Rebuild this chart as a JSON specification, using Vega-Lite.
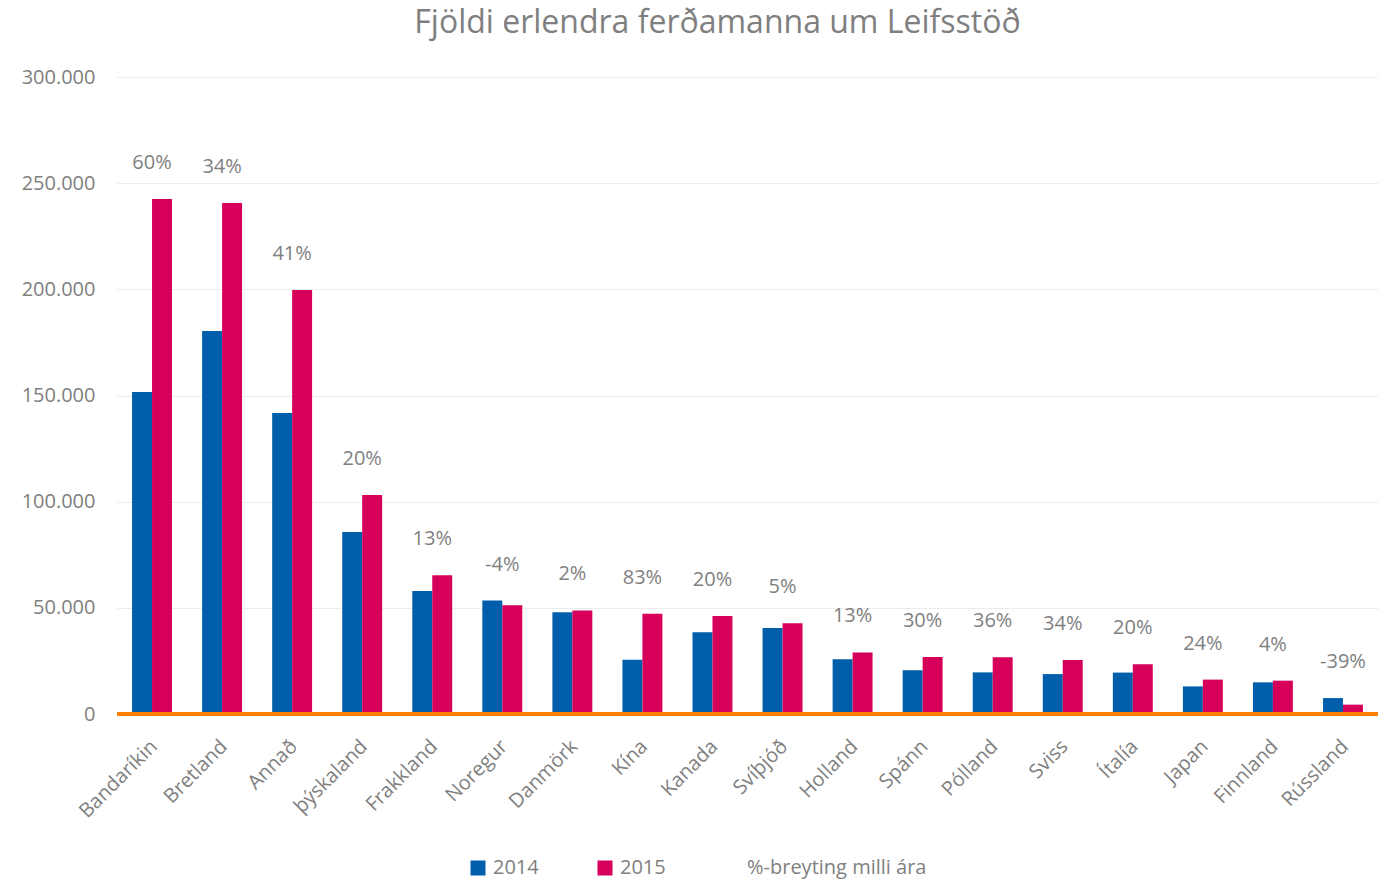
{
  "$schema": "https://vega.github.io/schema/vega-lite/v6.json",
  "autosize": {"type": "none"},
  "padding": {"left": 117, "top": 77, "right": 0, "bottom": 166},
  "width": 1261,
  "height": 637,
  "background": "white",
  "title": {
    "text": "Fjöldi erlendra ferðamanna um Leifsstöð",
    "font": "Open Sans",
    "fontSize": 32,
    "fontWeight": "normal",
    "color": "#7f7f7f",
    "anchor": "middle",
    "dx": -30,
    "offset": 27
  },
  "data": {
    "values": [
      {"land": "Bandaríkin", "y2014": 151600, "y2015": 242500, "breyting": 60},
      {"land": "Bretland", "y2014": 180400, "y2015": 240700, "breyting": 34},
      {"land": "Annað", "y2014": 141800, "y2015": 199700, "breyting": 41},
      {"land": "þýskaland", "y2014": 85700, "y2015": 103100, "breyting": 20},
      {"land": "Frakkland", "y2014": 57900, "y2015": 65300, "breyting": 13},
      {"land": "Noregur", "y2014": 53400, "y2015": 51200, "breyting": -4},
      {"land": "Danmörk", "y2014": 47900, "y2015": 48800, "breyting": 2},
      {"land": "Kína", "y2014": 25600, "y2015": 47200, "breyting": 83},
      {"land": "Kanada", "y2014": 38500, "y2015": 46200, "breyting": 20},
      {"land": "Svíþjóð", "y2014": 40500, "y2015": 42700, "breyting": 5},
      {"land": "Holland", "y2014": 25800, "y2015": 29000, "breyting": 13},
      {"land": "Spánn", "y2014": 20600, "y2015": 26800, "breyting": 30},
      {"land": "Pólland", "y2014": 19600, "y2015": 26700, "breyting": 36},
      {"land": "Sviss", "y2014": 18800, "y2015": 25400, "breyting": 34},
      {"land": "Ítalía", "y2014": 19500, "y2015": 23400, "breyting": 20},
      {"land": "Japan", "y2014": 13000, "y2015": 16200, "breyting": 24},
      {"land": "Finnland", "y2014": 14900, "y2015": 15700, "breyting": 4},
      {"land": "Rússland", "y2014": 7500, "y2015": 4400, "breyting": -39}
    ]
  },
  "encoding": {
    "x": {
      "field": "land",
      "type": "nominal",
      "sort": null,
      "scale": {"paddingInner": 0.43, "paddingOuter": 0.215},
      "axis": {
        "title": null,
        "labelAngle": -45,
        "labelFont": "Open Sans",
        "labelFontSize": 20,
        "labelColor": "#7f7f7f",
        "labelPadding": 22,
        "labelOffset": -5,
        "ticks": false,
        "domain": false,
        "grid": false
      }
    }
  },
  "layer": [
    {
      "transform": [
        {"fold": ["y2014", "y2015"], "as": ["key", "fjoldi"]},
        {"calculate": "datum.key == 'y2014' ? '2014' : '2015'", "as": "ar"}
      ],
      "mark": {"type": "bar"},
      "encoding": {
        "y": {
          "field": "fjoldi",
          "type": "quantitative",
          "scale": {"domain": [0, 300000], "nice": false},
          "axis": {
            "title": null,
            "values": [0, 50000, 100000, 150000, 200000, 250000, 300000],
            "labelExpr": "replace(format(datum.value, ','), ',', '.')",
            "labelFont": "Open Sans",
            "labelFontSize": 20,
            "labelColor": "#7f7f7f",
            "labelPadding": 22,
            "ticks": false,
            "domain": false,
            "gridColor": "#ececec",
            "gridWidth": 1
          }
        },
        "xOffset": {"field": "ar", "type": "nominal"},
        "color": {
          "field": "ar",
          "type": "nominal",
          "scale": {
            "domain": ["2014", "2015", "%-breyting milli ára"],
            "range": ["#005eaa", "#d6005a", "transparent"]
          },
          "legend": {
            "title": null,
            "orient": "none",
            "direction": "horizontal",
            "legendX": 351,
            "legendY": 781,
            "symbolType": "square",
            "symbolSize": 225,
            "symbolStrokeWidth": 0,
            "labelFont": "Open Sans",
            "labelFontSize": 20,
            "labelColor": "#7f7f7f",
            "labelOffset": 5,
            "labelLimit": 400,
            "columnPadding": 56,
            "padding": 0
          }
        }
      }
    },
    {
      "mark": {"type": "rule", "color": "#ff7f00", "strokeWidth": 4},
      "encoding": {"y": {"datum": 0}, "x": null}
    },
    {
      "transform": [
        {"calculate": "max(datum.y2014, datum.y2015)", "as": "top"},
        {"calculate": "datum.breyting + '%'", "as": "lab"}
      ],
      "mark": {
        "type": "text",
        "font": "Open Sans",
        "fontSize": 20,
        "color": "#7f7f7f",
        "baseline": "middle",
        "align": "center",
        "dy": -36
      },
      "encoding": {
        "y": {"field": "top", "type": "quantitative"},
        "text": {"field": "lab"}
      }
    }
  ],
  "config": {
    "view": {"stroke": null}
  }
}
